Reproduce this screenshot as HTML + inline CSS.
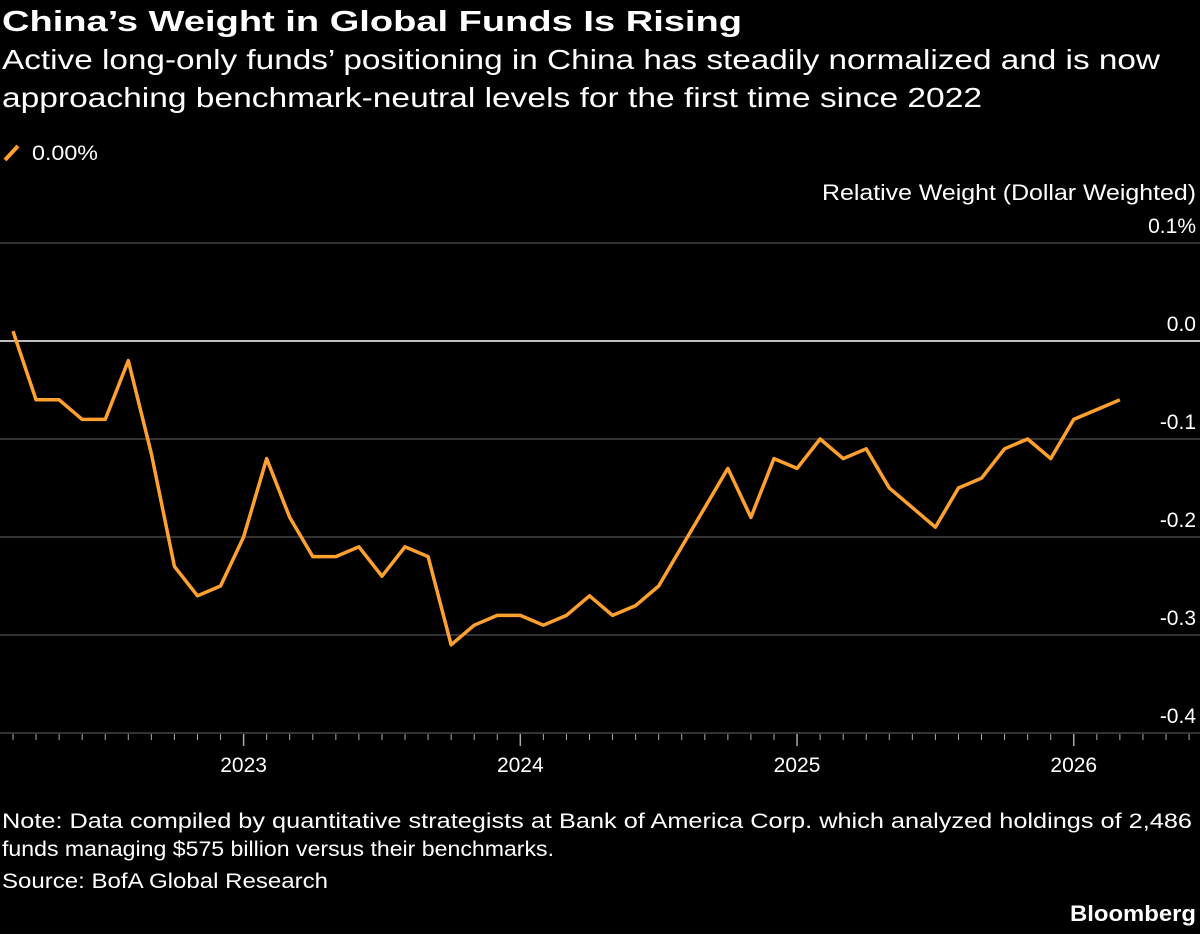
<!DOCTYPE html>
<html><head><meta charset="utf-8"><style>
body{margin:0;background:#000;width:1200px;height:929px;overflow:hidden;font-family:"Liberation Sans",sans-serif}
svg text{font-family:"Liberation Sans",sans-serif}
</style></head><body>
<svg id="c" width="1200" height="929">
<text x="2" y="31" fill="#fff" font-size="29" font-weight="bold" textLength="740" lengthAdjust="spacingAndGlyphs">China’s Weight in Global Funds Is Rising</text>
<text x="2" y="69" fill="#fff" font-size="28" textLength="1158" lengthAdjust="spacingAndGlyphs">Active long-only funds’ positioning in China has steadily normalized and is now</text>
<text x="2" y="107" fill="#fff" font-size="28" textLength="980" lengthAdjust="spacingAndGlyphs">approaching benchmark-neutral levels for the first time since 2022</text>
<g>
<line x1="5" y1="160" x2="18" y2="146" stroke="#ffa02f" stroke-width="4"/>
<text x="32" y="160" fill="#fff" font-size="21" textLength="66" lengthAdjust="spacingAndGlyphs">0.00%</text>
</g>
<text x="1196" y="200" fill="#fff" font-size="22" text-anchor="end" textLength="374" lengthAdjust="spacingAndGlyphs">Relative Weight (Dollar Weighted)</text>
<g id="grid"></g><g id="xax"></g><g id="series"></g>
<text x="2" y="828" fill="#fff" font-size="21" textLength="1190" lengthAdjust="spacingAndGlyphs">Note: Data compiled by quantitative strategists at Bank of America Corp. which analyzed holdings of 2,486</text>
<text x="2" y="856" fill="#fff" font-size="21" textLength="552" lengthAdjust="spacingAndGlyphs">funds managing $575 billion versus their benchmarks.</text>
<text x="2" y="888" fill="#fff" font-size="21" textLength="326" lengthAdjust="spacingAndGlyphs">Source: BofA Global Research</text>
<text x="1196" y="921" fill="#fff" font-size="22" font-weight="bold" text-anchor="end" textLength="126" lengthAdjust="spacingAndGlyphs">Bloomberg</text>
</svg>
<script>
const yTicks=[0.1,0.0,-0.1,-0.2,-0.3,-0.4];
const yTickLabels=["0.1%","0.0","-0.1","-0.2","-0.3","-0.4"];
const years=[2023,2024,2025,2026];
const startYear=2022, startMonth=3;
const values=[0.01,-0.06,-0.06,-0.08,-0.08,-0.02,-0.115,-0.23,-0.26,-0.25,-0.20,-0.12,-0.18,-0.22,-0.22,-0.21,-0.24,-0.21,-0.22,-0.31,-0.29,-0.28,-0.28,-0.29,-0.28,-0.26,-0.28,-0.27,-0.25,-0.21,-0.17,-0.13,-0.18,-0.12,-0.13,-0.10,-0.12,-0.11,-0.15,-0.17,-0.19,-0.15,-0.14,-0.11,-0.10,-0.12,-0.08,-0.07,-0.06];
const NS="http://www.w3.org/2000/svg";
function y(v){return 341-(v*980);}
function x(i){return 13+i*23.06;}
function mk(t,a,p){const e=document.createElementNS(NS,t);for(const k in a)e.setAttribute(k,a[k]);p.appendChild(e);return e;}
const grid=document.getElementById('grid');
yTicks.forEach((v,i)=>{
 const l=mk('line',{x1:0,x2:1200,y1:y(v),y2:y(v),stroke:v===0?'#fff':'#666','stroke-width':v===0?1.5:1},grid);
 
 
 const t=mk('text',{x:1196,y:y(v)-10,fill:'#fff','font-size':21,'text-anchor':'end'},grid);
 t.textContent=yTickLabels[i];
 
 
});
const xax=document.getElementById('xax');
const nMonths=values.length+3;
for(let i=0;i<nMonths;i++){
 const m=(startMonth-1+i)%12;
 const isYear=m===0;
 const tk=mk('line',{x1:x(i),x2:x(i),y1:734,y2:isYear?746:740,stroke:'#aaa','stroke-width':isYear?1.5:1},xax);
 
 
}
years.forEach(yr=>{
 const i=(yr-startYear)*12-(startMonth-1);
 const t=mk('text',{x:x(i),y:772,fill:'#fff','font-size':21,'text-anchor':'middle'},xax);
 t.textContent=yr;
 
 
});
const p=mk('polyline',{points:values.map((v,i)=>x(i)+','+y(v)).join(' '),fill:'none',stroke:'#ffa02f','stroke-width':3.5,'stroke-linejoin':'round'},document.getElementById('series'));


</script>
</body></html>
